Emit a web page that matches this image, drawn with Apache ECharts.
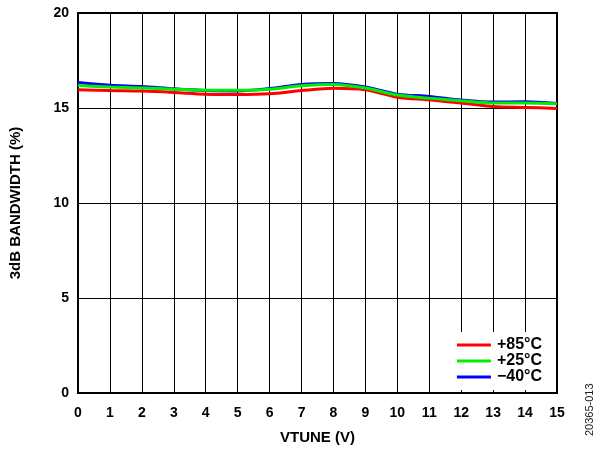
<!DOCTYPE html>
<html><head><meta charset="utf-8">
<script src="https://cdn.jsdelivr.net/npm/echarts@6/dist/echarts.min.js"></script>
<style>html,body{margin:0;padding:0;background:#fff}#c{width:597px;height:450px}</style>
</head><body><div id="c"></div>
<script>
const vtune = [0,1,2,3,4,5,6,7,8,9,10,11,12,13,14,15];
const bw85 = [15.96,15.92,15.89,15.82,15.73,15.71,15.75,15.92,16.04,15.96,15.57,15.43,15.26,15.08,15.03,14.98];
const bw25 = [16.18,16.10,16.05,15.99,15.94,15.94,15.99,16.17,16.24,16.05,15.68,15.52,15.38,15.26,15.26,15.22];
const bwm40 = [16.34,16.20,16.13,16.01,15.92,15.90,16.03,16.24,16.29,16.10,15.73,15.61,15.42,15.31,15.33,15.24];
const names = ['+85°C','+25°C','\u221240°C'];
const colors = ['#ff0000','#00ee00','#0000ff'];
const font = 'Liberation Sans, Arial, sans-serif';
const chart = echarts.init(document.getElementById('c'), null, {renderer:'canvas'});
function pairs(a){return vtune.map((x,i)=>[x,a[i]]);}
chart.setOption({
  animation:false,
  grid:{left:77,right:40,top:13,bottom:56,show:true,borderColor:'#000',borderWidth:2,backgroundColor:'transparent'},
  xAxis:{type:'value',min:0,max:15,interval:1,
    name:'VTUNE (V)',nameLocation:'middle',nameGap:37,
    nameTextStyle:{fontFamily:font,fontWeight:'bold',fontSize:15,color:'#000'},
    axisLine:{show:true,lineStyle:{color:'#000',width:2}},
    axisTick:{show:false},
    axisLabel:{fontFamily:font,fontWeight:'bold',fontSize:14,color:'#000',margin:13},
    splitLine:{show:true,lineStyle:{color:'#000',width:1}}},
  yAxis:{type:'value',min:0,max:20,interval:5,
    name:'3dB BANDWIDTH (%)',nameLocation:'middle',nameGap:55,
    nameTextStyle:{fontFamily:font,fontWeight:'bold',fontSize:15,color:'#000'},
    axisLine:{show:true,lineStyle:{color:'#000',width:2}},
    axisTick:{show:false},
    axisLabel:{fontFamily:font,fontWeight:'bold',fontSize:14,color:'#000',margin:9},
    splitLine:{show:true,lineStyle:{color:'#000',width:1}}},
  legend:{orient:'vertical',right:42,top:332,backgroundColor:'#fff',padding:[5,13,5,12],
    itemWidth:34,itemHeight:3,itemGap:0,icon:'rect',
    textStyle:{fontFamily:font,fontWeight:'bold',fontSize:16,color:'#000',padding:[0,0,0,1]},
    data:names},
  graphic:[
    {type:'text',x:595,y:436,rotation:Math.PI/2,
      style:{text:'20365-013',font:'11px '+font,fill:'#222',textAlign:'left',textVerticalAlign:'bottom'}}
  ],
  series:[
    {name:names[0],type:'line',data:pairs(bw85),smooth:0.3,showSymbol:false,lineStyle:{color:colors[0],width:3},itemStyle:{color:colors[0]},z:3},
    {name:names[1],type:'line',data:pairs(bw25),smooth:0.3,showSymbol:false,lineStyle:{color:colors[1],width:3},itemStyle:{color:colors[1]},z:4},
    {name:names[2],type:'line',data:pairs(bwm40),smooth:0.3,showSymbol:false,lineStyle:{color:colors[2],width:3},itemStyle:{color:colors[2]},z:2}
  ]
});
</script></body></html>
